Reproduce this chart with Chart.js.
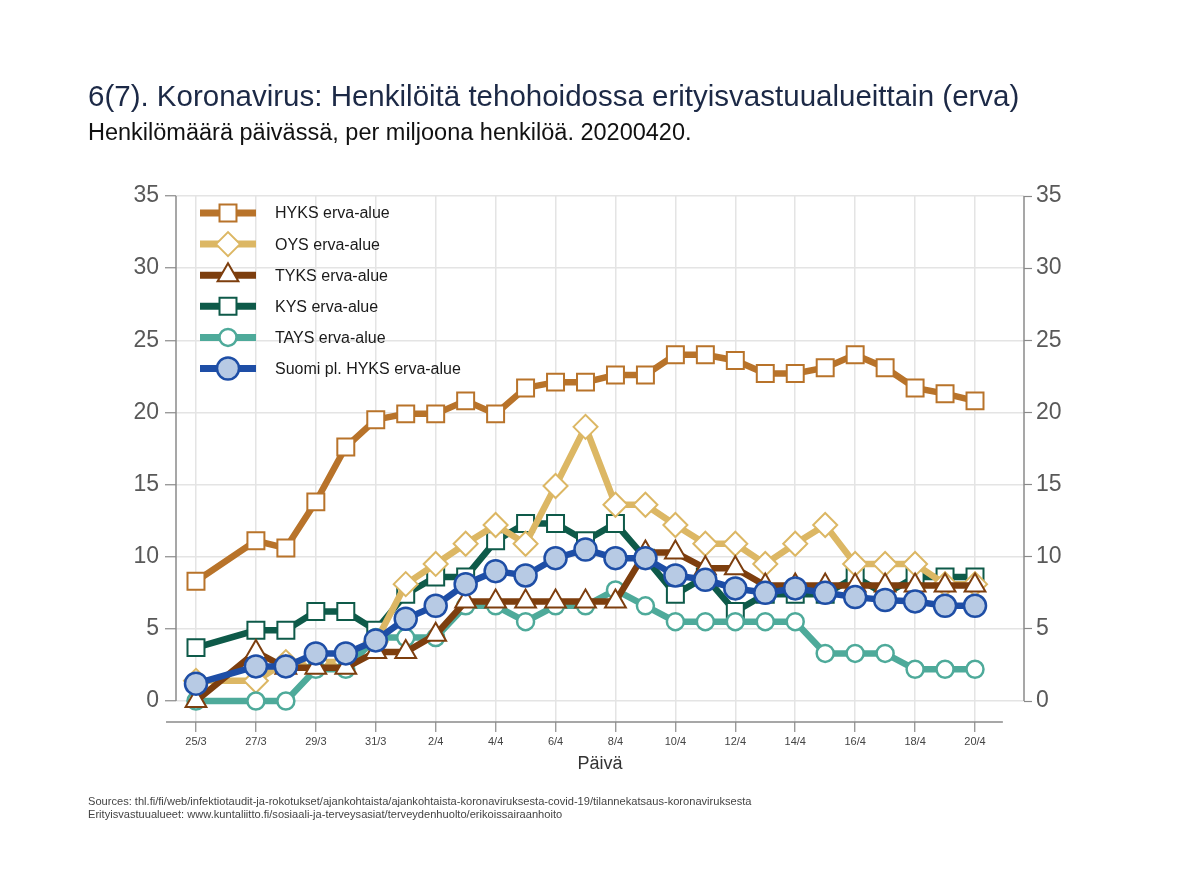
<!DOCTYPE html>
<html>
<head>
<meta charset="utf-8">
<script src="https://cdn.jsdelivr.net/npm/chart.js@4.4.0/dist/chart.umd.min.js"></script>
<style>
body { margin: 0; background: #fff; font-family: "Liberation Sans", Arial, sans-serif; }
#wrap { position: relative; width: 1200px; height: 873px; }
#wrap canvas { position: absolute; left: 0; top: 0; }
.txt { position: absolute; white-space: nowrap; line-height: 1; }
</style>
</head>
<body>
<div id="wrap">
  <canvas id="chart" width="1200" height="873"></canvas>
  <div class="txt" style="left:88px;top:81px;font-size:29.5px;color:#1c2946">6(7). Koronavirus: Henkilöitä tehohoidossa erityisvastuualueittain (erva)</div>
  <div class="txt" style="left:88px;top:121px;font-size:23.5px;color:#111">Henkilömäärä päivässä, per miljoona henkilöä. 20200420.</div>
  <div class="txt" style="left:0;width:1200px;text-align:center;top:754px;font-size:18px;color:#333">Päivä</div>
  <div class="txt" style="left:88px;top:796px;font-size:11.1px;color:#444">Sources: thl.fi/fi/web/infektiotaudit-ja-rokotukset/ajankohtaista/ajankohtaista-koronaviruksesta-covid-19/tilannekatsaus-koronaviruksesta</div>
  <div class="txt" style="left:88px;top:809px;font-size:11.1px;color:#444">Erityisvastuualueet: www.kuntaliitto.fi/sosiaali-ja-terveysasiat/terveydenhuolto/erikoissairaanhoito</div>
</div>
<script>
// päivät 25/3 - 20/4 (26/3 puuttuu aineistosta)
const dates = ['25/3','26/3','27/3','28/3','29/3','30/3','31/3',
  '1/4','2/4','3/4','4/4','5/4','6/4','7/4','8/4','9/4','10/4',
  '11/4','12/4','13/4','14/4','15/4','16/4','17/4','18/4','19/4','20/4'];

const hyks  = [8.3, null, 11.1, 10.6, 13.8, 17.6, 19.5, 19.9, 19.9, 20.8, 19.9, 21.7, 22.1, 22.1, 22.6, 22.6, 24.0, 24.0, 23.6, 22.7, 22.7, 23.1, 24.0, 23.1, 21.7, 21.3, 20.8];
const oys   = [1.4, null, 1.4, 2.7, 2.7, 2.7, 4.1, 8.1, 9.5, 10.9, 12.2, 10.9, 14.9, 19.0, 13.6, 13.6, 12.2, 10.9, 10.9, 9.5, 10.9, 12.2, 9.5, 9.5, 9.5, 8.1, 8.1];
const tyks  = [0, null, 3.4, 2.3, 2.3, 2.3, 3.4, 3.4, 4.6, 6.9, 6.9, 6.9, 6.9, 6.9, 6.9, 10.3, 10.3, 9.2, 9.2, 8.0, 8.0, 8.0, 8.0, 8.0, 8.0, 8.0, 8.0];
const kys   = [3.7, null, 4.9, 4.9, 6.2, 6.2, 4.9, 7.4, 8.6, 8.6, 11.1, 12.3, 12.3, 11.1, 12.3, 9.9, 7.4, 8.6, 6.2, 7.4, 7.4, 7.4, 8.6, 7.4, 8.6, 8.6, 8.6];
const tays  = [0, null, 0, 0, 2.2, 2.2, 4.4, 4.4, 4.4, 6.6, 6.6, 5.5, 6.6, 6.6, 7.7, 6.6, 5.5, 5.5, 5.5, 5.5, 5.5, 3.3, 3.3, 3.3, 2.2, 2.2, 2.2];
const suomi = [1.2, null, 2.4, 2.4, 3.3, 3.3, 4.2, 5.7, 6.6, 8.1, 9.0, 8.7, 9.9, 10.5, 9.9, 9.9, 8.7, 8.4, 7.8, 7.5, 7.8, 7.5, 7.2, 7.0, 6.9, 6.6, 6.6];

const yTicks = [0, 5, 10, 15, 20, 25, 30, 35];

function toPoints(values) {
    return values.map((v, i) => ({ x: i, y: v }));
}

function makeSet(label, values, color, fill, style, radius, order) {
    return {
        label: label,
        data: toPoints(values),
        borderColor: color,
        backgroundColor: color,
        borderWidth: 6.5,
        pointStyle: style,
        pointRadius: radius,
        pointBorderWidth: style === 'circle' ? 2.5 : 2,
        pointBorderColor: color,
        pointBackgroundColor: fill,
        spanGaps: true,
        tension: 0,
        order: order
    };
}

const datasets = [
    makeSet('HYKS erva-alue', hyks, '#b8732a', '#fff', 'rect', 12, 5),
    makeSet('OYS erva-alue', oys, '#dcb764', '#fff', 'rectRot', 12, 3),
    makeSet('TYKS erva-alue', tyks, '#7d3e0e', '#fff', 'triangle', 12, 1),
    makeSet('KYS erva-alue', kys, '#0e5a49', '#fff', 'rect', 12, 4),
    makeSet('TAYS erva-alue', tays, '#4eaa9a', '#fff', 'circle', 8.5, 2),
    makeSet('Suomi pl. HYKS erva-alue', suomi, '#1e4ea6', '#b7cae4', 'circle', 11, 0)
];

const axisColor = '#8a8a8a';
const gridColor = '#e4e4e4';

// axis lines drawn only over the data range, like the original
const axisLines = {
    id: 'axisLines',
    afterDraw(chart) {
        const ctx = chart.ctx;
        const a = chart.chartArea;
        const y = chart.scales.y;
        const x = chart.scales.x;
        ctx.save();
        ctx.strokeStyle = axisColor;
        ctx.lineWidth = 1.5;
        ctx.beginPath();
        ctx.moveTo(a.left, y.getPixelForValue(35));
        ctx.lineTo(a.left, y.getPixelForValue(0));
        ctx.moveTo(a.right, y.getPixelForValue(35));
        ctx.lineTo(a.right, y.getPixelForValue(0));
        ctx.moveTo(x.getPixelForValue(-1), a.bottom);
        ctx.lineTo(x.getPixelForValue(26.93), a.bottom);
        ctx.stroke();
        ctx.restore();
    }
};

function drawMarker(ctx, ds, x, y) {
    const opts = { pointStyle: ds.pointStyle, radius: ds.pointRadius, borderWidth: ds.pointBorderWidth, rotation: 0 };
    if (Chart.helpers && Chart.helpers.drawPoint) {
        Chart.helpers.drawPoint(ctx, opts, x, y);
        return;
    }
    ctx.beginPath();
    ctx.arc(x, y, ds.pointRadius, 0, Math.PI * 2);
    ctx.fill();
    ctx.stroke();
}

// legend inside the plot: line sample + marker + text
const insideLegend = {
    id: 'insideLegend',
    afterDatasetsDraw(chart) {
        const ctx = chart.ctx;
        const a = chart.chartArea;
        ctx.save();
        chart.data.datasets.forEach((ds, i) => {
            const cy = a.top + 17 + i * 31.1;
            const x0 = a.left + 24;
            ctx.strokeStyle = ds.borderColor;
            ctx.lineWidth = 7;
            ctx.beginPath();
            ctx.moveTo(x0, cy);
            ctx.lineTo(x0 + 56, cy);
            ctx.stroke();
            ctx.fillStyle = ds.pointBackgroundColor;
            ctx.strokeStyle = ds.pointBorderColor;
            ctx.lineWidth = ds.pointBorderWidth;
            drawMarker(ctx, ds, x0 + 28, cy);
            ctx.fillStyle = '#1a1a1a';
            ctx.font = '16px "Liberation Sans", Arial, sans-serif';
            ctx.textBaseline = 'middle';
            ctx.fillText(ds.label, x0 + 75, cy + 1);
        });
        ctx.restore();
    }
};

const ctx = document.getElementById('chart').getContext('2d');
new Chart(ctx, {
    type: 'line',
    data: { datasets: datasets },
    options: {
        responsive: false,
        animation: false,
        devicePixelRatio: 1,
        layout: { padding: { left: 116, right: 116, top: 196, bottom: 91 } },
        plugins: { legend: { display: false }, tooltip: { enabled: false } },
        scales: {
            x: {
                type: 'linear',
                min: -0.667,
                max: 27.635,
                afterBuildTicks: s => {
                    s.ticks = dates.map((d, i) => i).filter(i => i % 2 === 0).map(i => ({ value: i }));
                },
                afterFit: s => { s.height = 60; },
                border: { display: false },
                grid: { color: gridColor, lineWidth: 1.5, tickColor: axisColor, tickLength: 10, tickWidth: 1.2 },
                ticks: {
                    callback: v => dates[v],
                    color: '#444',
                    font: { size: 11, family: '"Liberation Sans", Arial, sans-serif' },
                    padding: 3,
                    maxRotation: 0,
                    autoSkip: false
                }
            },
            y: {
                min: -1.455,
                max: 35,
                afterBuildTicks: s => { s.ticks = yTicks.map(v => ({ value: v })); },
                afterFit: s => { s.width = 60; },
                border: { display: false },
                grid: { color: gridColor, lineWidth: 1.5, tickColor: axisColor, tickLength: 11, tickWidth: 1.2 },
                ticks: {
                    color: '#595959',
                    font: { size: 23, family: '"Liberation Sans", Arial, sans-serif' },
                    padding: 6
                }
            },
            y2: {
                position: 'right',
                min: -1.455,
                max: 35,
                afterBuildTicks: s => { s.ticks = yTicks.map(v => ({ value: v })); },
                afterFit: s => { s.width = 60; },
                border: { display: false },
                grid: { drawOnChartArea: false, tickColor: axisColor, tickLength: 8, tickWidth: 1.2 },
                ticks: {
                    color: '#595959',
                    font: { size: 23, family: '"Liberation Sans", Arial, sans-serif' },
                    padding: 4
                }
            }
        }
    },
    plugins: [axisLines, insideLegend]
});
</script>
</body>
</html>
